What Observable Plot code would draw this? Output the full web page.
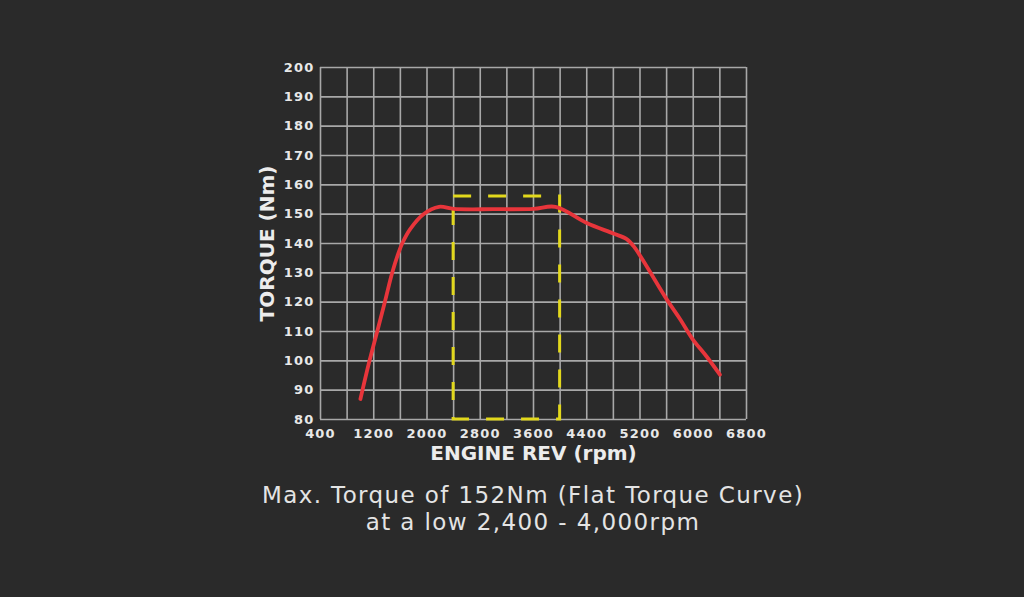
<!DOCTYPE html>
<html>
<head>
<meta charset="utf-8">
<script src="https://cdn.jsdelivr.net/npm/d3@7"></script>
<script src="https://cdn.jsdelivr.net/npm/@observablehq/plot@0.6"></script>
<style>
  html, body { margin: 0; padding: 0; background: #2a2a2a; }
  body { width: 1024px; height: 597px; overflow: hidden; }
  #chart svg { display: block; }
  #chart svg g[aria-label="x-axis tick label"] text,
  #chart svg g[aria-label="y-axis tick label"] text { letter-spacing: 1.2px; }
  .cap { text-align: center; color: #e4e4e4; font-family: "DejaVu Sans", sans-serif; font-size: 23px; letter-spacing: 1.4px; height: 27px; line-height: 27px; white-space: nowrap; }
  #caption { margin-top: 4px; padding-left: 42px; width: 982px; }
</style>
</head>
<body>
<div id="chart"></div>
<div id="caption"><div class="cap">Max. Torque of 152Nm (Flat Torque Curve)</div><div class="cap">at a low 2,400 - 4,000rpm</div></div>
<script>
const rpm    = [1000, 1136, 1252, 1366, 1477, 1560, 1627, 1750, 1947, 2180, 2400, 3000, 3600, 3930, 4400, 4800, 5000, 5107, 5609, 5808, 5984, 6206, 6400];
const torque = [87,   100,  110,  120,  130,  136,  140,  145,  150,  152.5, 151.8, 151.7, 151.8, 152.5, 147, 143.4, 141.5, 139, 120.7, 114, 107.6, 101.3, 95.3];
const xTickLabels = [400, 1200, 2000, 2800, 3600, 4400, 5200, 6000, 6800];
const xGrid = [400, 800, 1200, 1600, 2000, 2400, 2800, 3200, 3600, 4000, 4400, 4800, 5200, 5600, 6000, 6400, 6800];
const yTicks = [80, 90, 100, 110, 120, 130, 140, 150, 160, 170, 180, 190, 200];
const flatBand = [{x1: 2400, x2: 4000, y1: 80, y2: 156}];
const xLabel = "ENGINE REV (rpm)";
const yLabel = "TORQUE (Nm)";

const curve = rpm.map((r, i) => ({rpm: r, torque: torque[i]}));
const font = "'DejaVu Sans', sans-serif";

const chart = Plot.plot({
  width: 1024,
  height: 478,
  marginLeft: 320,
  marginRight: 278,
  marginTop: 67,
  marginBottom: 59,
  style: {background: "#2a2a2a", color: "#e8e8e8", fontFamily: font},
  x: {domain: [400, 6800]},
  y: {domain: [80, 200]},
  marks: [
    Plot.gridX(xGrid, {stroke: "#a8a8a8", strokeOpacity: 1, strokeWidth: 1.6}),
    Plot.gridY(yTicks, {stroke: "#a8a8a8", strokeOpacity: 1, strokeWidth: 1.6}),
    Plot.axisX(xTickLabels, {tickSize: 0, tickPadding: 9, label: null, tickFormat: d => String(d), fontSize: 13, fontWeight: "bold", fill: "#e8e8e8"}),
    Plot.axisY(yTicks, {tickSize: 0, tickPadding: 6, label: null, tickFormat: d => String(d), fontSize: 13, fontWeight: "bold", fill: "#e8e8e8"}),
    Plot.rect(flatBand, {x1: "x1", x2: "x2", y1: "y1", y2: "y2", fill: "none", stroke: "#e2d81c", strokeWidth: 3, strokeDasharray: "18,17"}),
    Plot.line(curve, {x: "rpm", y: "torque", stroke: "#e8353b", strokeWidth: 3.8, curve: "catmull-rom", strokeLinecap: "round"}),
    Plot.text([xLabel], {frameAnchor: "bottom", dy: 40, text: d => d, fontSize: 20, fontWeight: "bold", fill: "#ececec"}),
    Plot.text([yLabel], {frameAnchor: "left", dx: -53, rotate: -90, textAnchor: "middle", text: d => d, fontSize: 20, fontWeight: "bold", fill: "#ececec"})
  ]
});
document.getElementById("chart").appendChild(chart);
</script>
</body>
</html>
